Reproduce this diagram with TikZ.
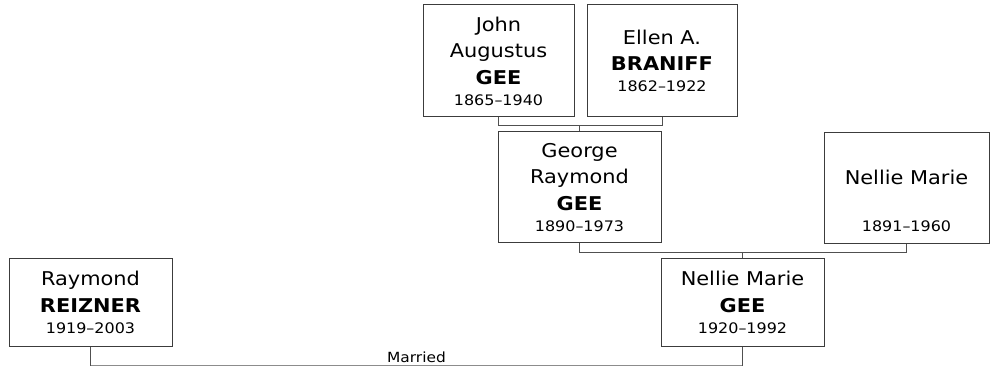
\documentclass[tikz,border=0pt]{standalone}
\usepackage{fontspec}
\setmainfont{DejaVu Sans}[FakeStretch=1.1]
\usetikzlibrary{calc, positioning}
\definecolor{boxgray}{RGB}{60,60,60}
\definecolor{linkgray}{RGB}{80,80,80}
\definecolor{marrgray}{RGB}{140,140,140}
\newcommand{\yrs}[1]{{\fontsize{14.5}{18}\selectfont #1}}

\begin{document}
\begin{tikzpicture}[x=1pt, y=-1pt,
  box/.style={rectangle, draw=boxgray, line width=1pt, fill=white,
    minimum width=163pt, minimum height=111pt, inner sep=0pt,
    font=\fontsize{19}{26.5}\selectfont, align=center},
  link/.style={draw=linkgray, line width=1pt},
  married/.style={draw=marrgray, line width=1pt}
]
\useasboundingbox (0,0) rectangle (991,366);

\node[box, minimum width=151pt, minimum height=112pt] (john) at (498.5,61)
  {John\\Augustus\\\textbf{GEE}\\[-5.5pt]\yrs{1865–1940}};
\node[box, minimum width=150pt, minimum height=112pt] (ellen) at (662,61)
  {Ellen A.\\\textbf{BRANIFF}\\[-5.5pt]\yrs{1862–1922}};
\node[box] (george) at (579.5,187.5)
  {George\\Raymond\\\textbf{GEE}\\[-5.5pt]\yrs{1890–1973}};
\node[box, minimum width=165pt] (nelliem) at (906.5,188)
  {\vphantom{N}\\Nellie Marie\\\mbox{}\\[-5.5pt]\yrs{1891–1960}};
\node[box, minimum height=87pt] (nellieg) at (742.5,302.5)
  {Nellie Marie\\\textbf{GEE}\\[-5.5pt]\yrs{1920–1992}};
\node[box, minimum height=87pt] (raymond) at (90.5,302.5)
  {Raymond\\\textbf{REIZNER}\\[-5.5pt]\yrs{1919–2003}};

% parents
\draw[link] (john.south) -- ++(0,8) coordinate (j1) -| (ellen.south);
\draw[link] (george.north) -- (george.north |- j1);
\draw[link] (george.south) -- ++(0,9) coordinate (g1) -| (nelliem.south);
\draw[link] (nellieg.north) -- (nellieg.north |- g1);

% marriage
\coordinate (m1) at ($(raymond.south)+(0,19)$);
\draw[married] (m1)
  -- node[above, inner sep=2pt, font=\fontsize{14}{16}\selectfont] {Married}
  (m1 -| nellieg.south);
\draw[link] (raymond.south) -- (m1);
\draw[link] (nellieg.south) -- (nellieg.south |- m1);
\end{tikzpicture}
\end{document}
